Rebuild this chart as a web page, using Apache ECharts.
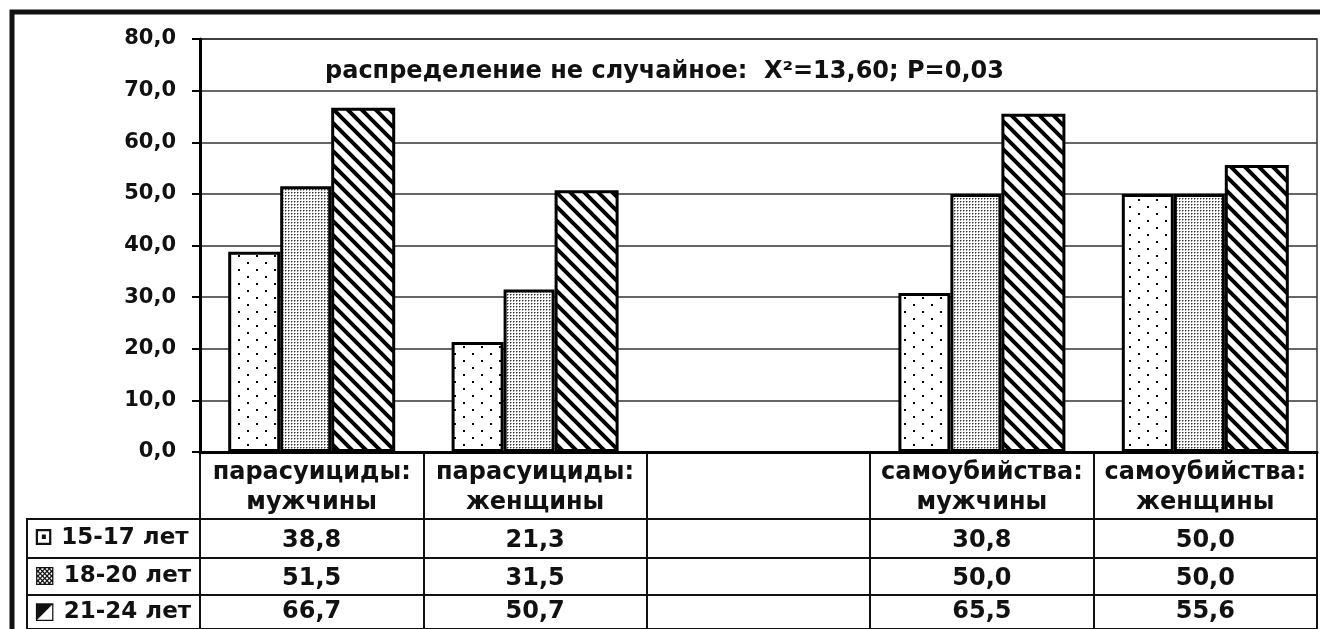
<!DOCTYPE html>
<html>
<head>
	<meta charset="utf-8">
	<title>Парасуициды и самоубийства</title>
	<script src="https://cdn.jsdelivr.net/npm/echarts@6/dist/echarts.min.js"></script>
</head>
<body style="margin:0;background:#fff">
	<div id="main" style="width:1320px;height:629px;"></div>
	<script type="text/javascript">
	// категории (третья колонка пустая)
	var categories = ['парасуициды:\nмужчины', 'парасуициды:\nженщины', '', 'самоубийства:\nмужчины', 'самоубийства:\nженщины'];
	var ages = ['15-17 лет', '18-20 лет', '21-24 лет'];
	var keys = ['⊡', '▩', '◩'];
	var v1517 = [38.8, 21.3, null, 30.8, 50.0];
	var v1820 = [51.5, 31.5, null, 50.0, 50.0];
	var v2124 = [66.7, 50.7, null, 65.5, 55.6];
	var yMin = 0, yMax = 80, yStep = 10;
	var note = 'распределение не случайное:  X²=13,60; P=0,03';

	var rows = [v1517, v1820, v2124];
	var rowTop = [519, 558, 595];
	var rowH = [39, 37, 40];

	var ink = '#111';
	var cellFont = { fontFamily: 'DejaVu Sans', fontWeight: 'bold', fontSize: 24, color: ink };

	function comma(v) {
		if (v === null || v === undefined || v === '') return '';
		return Number(v).toFixed(1).replace('.', ',');
	}

	// штриховки
	function pattern(w, h, draw) {
		var c = document.createElement('canvas');
		c.width = w; c.height = h;
		var ctx = c.getContext('2d');
		ctx.fillStyle = '#fff';
		ctx.fillRect(0, 0, w, h);
		ctx.fillStyle = '#000';
		ctx.strokeStyle = '#000';
		draw(ctx);
		return { image: c, repeat: 'repeat' };
	}
	var dots = pattern(18, 14, function(ctx) {
		ctx.fillRect(4, 3, 2, 2);
		ctx.fillRect(13, 10, 2, 2);
	});
	var fine = pattern(3, 3, function(ctx) {
		ctx.fillStyle = '#333';
		ctx.fillRect(0, 0, 1, 1);
		ctx.fillStyle = '#999';
		ctx.fillRect(1, 0, 1, 1);
		ctx.fillRect(0, 1, 1, 1);
	});
	var hatch = pattern(14, 14, function(ctx) {
		ctx.lineWidth = 4;
		ctx.beginPath();
		ctx.moveTo(-14, -14); ctx.lineTo(28, 28);
		ctx.moveTo(-14, 0); ctx.lineTo(14, 28);
		ctx.moveTo(0, -14); ctx.lineTo(28, 14);
		ctx.stroke();
	});

	function bar(name, data, fill, width) {
		return {
			name: name, type: 'bar', xAxisIndex: 0, yAxisIndex: 0,
			data: data, barWidth: width, barGap: '0%', silent: true,
			itemStyle: { color: fill, borderColor: '#000', borderWidth: 3 }
		};
	}

	var grid = [
		{ left: 200, right: 3, top: 39, height: 413, show: true, borderColor: '#333', borderWidth: 1.5 },
		{ left: 200, right: 3, top: 452, height: 67, show: true, borderColor: ink, borderWidth: 2 }
	];
	var xAxis = [
		{
			gridIndex: 0, type: 'category', data: categories,
			axisLine: { lineStyle: { color: '#000', width: 3 } },
			axisTick: { show: false }, axisLabel: { show: false }
		},
		{
			gridIndex: 1, type: 'category', data: categories,
			axisLine: { show: false }, axisTick: { show: false },
			splitLine: { show: true, interval: 0, lineStyle: { color: ink, width: 2 } },
			axisLabel: Object.assign({ interval: 0, margin: -31, verticalAlign: 'middle', lineHeight: 30 }, cellFont)
		}
	];
	var yAxis = [
		{
			gridIndex: 0, type: 'value', min: yMin, max: yMax, interval: yStep,
			axisLine: { show: true, lineStyle: { color: '#000', width: 3 } },
			axisTick: { show: true, length: 8, lineStyle: { color: '#000', width: 2 } },
			axisLabel: Object.assign({ margin: 24, formatter: comma }, cellFont, { fontSize: 21 }),
			splitLine: { lineStyle: { color: '#333', width: 1.5 } }
		},
		{ gridIndex: 1, type: 'value', show: false }
	];

	rows.forEach(function(vals, r) {
		var gl = grid.length;
		grid.push({ left: 27, width: 173, top: rowTop[r], height: rowH[r], show: true, borderColor: ink, borderWidth: 2 });
		xAxis.push({ gridIndex: gl, type: 'value', show: false });
		yAxis.push({
			gridIndex: gl, type: 'category', data: [keys[r] + ' ' + ages[r]],
			axisLine: { show: false }, axisTick: { show: false },
			axisLabel: Object.assign({ inside: true, margin: 7, verticalAlign: 'middle', padding: [4, 0, 0, 0] }, cellFont, { fontSize: 23 })
		});
		grid.push({ left: 200, right: 3, top: rowTop[r], height: rowH[r], show: true, borderColor: ink, borderWidth: 2 });
		xAxis.push({
			gridIndex: gl + 1, type: 'category', data: categories,
			axisLine: { show: false }, axisTick: { show: false },
			splitLine: { show: true, interval: 0, lineStyle: { color: ink, width: 2 } },
			axisLabel: Object.assign({
				interval: 0, margin: -Math.round(rowH[r] / 2) + 3, verticalAlign: 'middle',
				formatter: function(v, i) { return comma(vals[i]); }
			}, cellFont)
		});
		yAxis.push({ gridIndex: gl + 1, type: 'value', show: false });
	});

	var myChart = echarts.init(document.getElementById('main'));
	myChart.setOption({
		animation: false,
		backgroundColor: '#fff',
		title: {
			text: note, left: 325, top: 60, padding: 0,
			textStyle: { fontFamily: 'DejaVu Sans', fontWeight: 'bold', fontSize: 24, color: ink }
		},
		graphic: [{
			type: 'polyline', silent: true,
			shape: { points: [[12, 640], [12, 12], [1330, 12]] },
			style: { stroke: '#111', lineWidth: 5, fill: null }
		}],
		grid: grid,
		xAxis: xAxis,
		yAxis: yAxis,
		series: [
			bar(ages[0], v1517, dots, 52),
			bar(ages[1], v1820, fine, 51),
			bar(ages[2], v2124, hatch, 64)
		]
	});
	</script>
</body>
</html>
